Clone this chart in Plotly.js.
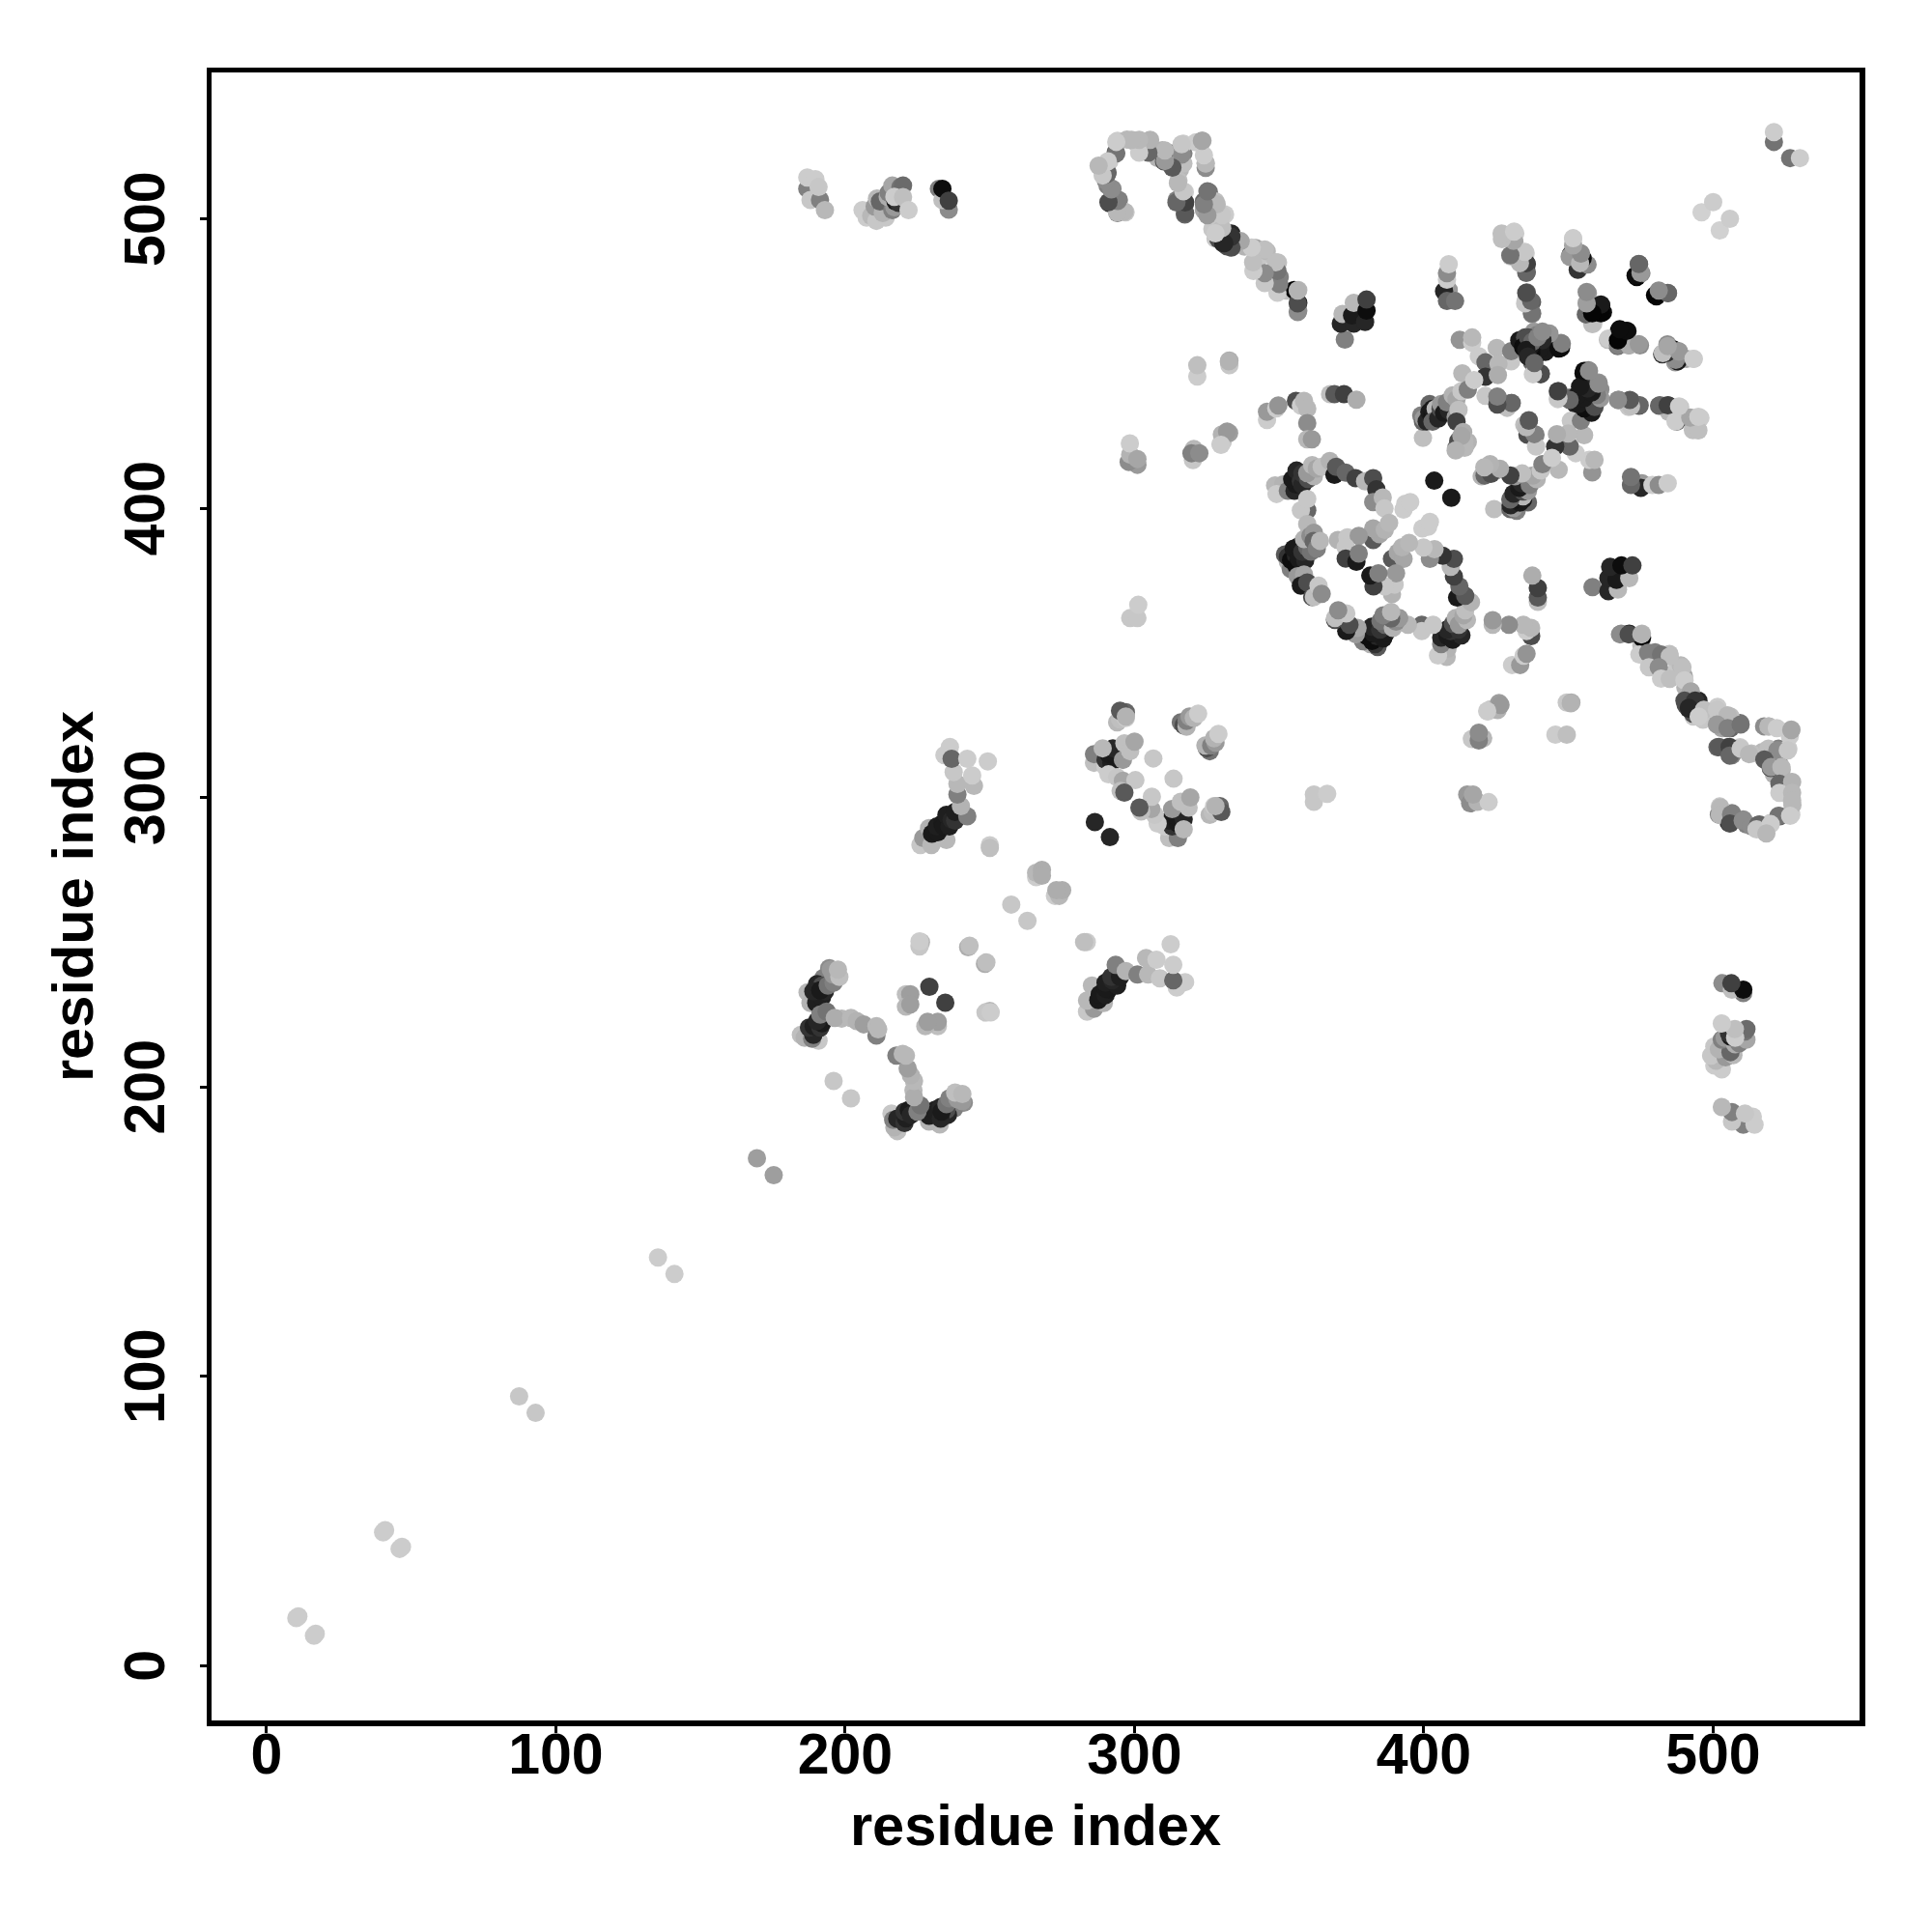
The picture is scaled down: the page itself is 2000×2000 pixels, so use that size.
<!DOCTYPE html>
<html><head><meta charset="utf-8">
<script src="https://cdn.plot.ly/plotly-3.0.1.min.js"></script>
<style>html,body{margin:0;padding:0;background:#fff}</style></head>
<body><div id="chart" style="width:2000px;height:2000px"></div>
<script>
// Each row is one residue contact: [residue i, residue j, grey level]
const shortRange = [[10.3,16.4,.8],[11,17,.8],[40.3,46,.8],[41,46.8,.8],[87.3,93,.78],[135.3,141,.8],[169.5,175.3,.62],[196,202,.78],[257.4,263,.78],
 [242.5,248.3,.68],[243,248.8,.75],[225.8,249,.75],[226.2,250,.72],[225.7,248.5,.78],[225.7,250.3,.8],[229.1,234.6,.25],
 [221,232,.75],[222.5,232,.62],[221,227.7,.72],[222.5,228.5,.62],[250,283.5,.8],[250,282.6,.75],[266,272.5,.8],[266,274,.72],[268,275,.68],[268,273,.68]];
const sheetA = [[187,232.7,.72],[188,229,.7],[190,229,.12],[192,231,.12],[193,233,.15],[194.5,241,.55],[192.5,237.7,.5],[190.3,235.5,.15],[192,235,.3],[189,233,.15],[191.4,233.3,.1],[194,235,.45],[196,236,.5],[195.8,238.8,.6],[195,240.5,.6],[198,238,.75],[197.5,240.5,.72],
 [184.7,218,.75],[186,217,.7],[190.8,216,.78],[188.6,216.6,.5],[189,218,.15],[187.5,220.5,.2],[189.1,221,.12],[191.4,220.5,.2],[192,222,.1],[190.3,222.7,.15],[191.4,225,.5],[193.6,226,.45],
 [198.8,223.6,.72],[196.4,223.8,.68],[202,223.8,.72],[204,222.7,.7],[206.4,221.6,.62],[210.8,217.7,.5],[210.8,221,.72],[211.4,219.9,.72]];
const sheetB = [[235,285.3,.72],[228.5,286,.5],[226,283.6,.78],[227,286,.6],[231,286,.72],[229.8,283.6,.72],[229,289.4,.7],[230,287.5,.1],[232,288,.1],[231.7,290,.12],[233.6,291,.1],[234,290,.1],[236,290,.12],[235,294,.12],[236.8,292.3,.15],[238,292,.2],[238,295,.12],
 [242.2,293.5,.5],[240,297,.7],[238.8,301,.5],[238.8,304.7,.72],[244.5,304,.72],[237.5,308.8,.78],[243.9,307.6,.8],[234.3,314.6,.8],[236.2,317.5,.8],[236.8,313.4,.4],[242.2,313.4,.8],[249.3,312.5,.8]];
const ringC = [[286,312,.75],[286,315,.5],[290,310.5,.8],[290,313,.2],[292,312,.12],[291,315,.1],[294,313.5,.1],[293,315,.1],[295,316,.2],[292.5,317,.15],[289,317,.72],[296,313,.6],[296.5,318.7,.75],[298.5,316,.75],[300,319.3,.65],
 [294,326,.72],[295,327,.75],[297,327.5,.8],[297,329.5,.4],[316,326,.45],[317,325,.3],[318,324.5,.7],[318,326.5,.5],[319,328,.6],[320.5,327.5,.7],[322,329,.8],[306.5,313.5,.78],
 [291,308,.8],[294,307,.78],[296,305.8,.65],[300.3,306,.78],[295.2,302.3,.75],[296.5,301.7,.35],[286.3,291.5,.15],[295,330,.35],[297,328,.7]];
const farTop = [[186.9,510.4,.5],[188,506.5,.78],[191.3,506.5,.5],[186.9,514.3,.8],[189.7,513.7,.8],[190.8,511,.78],[193,503,.72],
 [206,503,.8],[207.4,500.4,.8],[209,501,.72],[210.8,499.3,.78],[214,500.4,.78],[210.2,504.3,.6],[213.6,504.3,.5],[213,502,.7],[211,507,.72],[212,506,.4],[216.3,503,.5],[217,504,.6],[214.7,507.6,.68],[215,509,.5],[217.4,506,.1],[218.5,505.5,.2],[218,510,.3],[216.3,511.5,.65],[219.1,511,.45],[220,511.5,.42],[217,507.6,.8],[220,507.5,.75],[221.9,503,.8],
 [232.4,510.4,.5],[235.8,503.2,.55],[233.6,506.5,.75],[233.6,510.4,.05],[235.8,506.3,.25]];
const hairpin = [[288,518,.75],[291.3,519.9,.8],[289,516.5,.78],[290.7,516,.4],[290.7,511.5,.5],[292.4,510.4,.55],[291.3,505.4,.15],[294.6,506.5,.5],[294.1,502,.5],[296.9,502.3,.78],
 [293.5,523,.4],[294.1,527,.8],[297.4,527.4,.72],[299.6,527,.72],[301.9,527,.68],[302.4,523.7,.78],[305.2,527,.68],[305.2,523.7,.35],[308,523.2,.3],[308,521,.7],[309.6,523.7,.7],[310.2,519.9,.3],[312.4,522.6,.5],
 [314.6,519.9,.1],[315.7,517,.72],[315.7,519.9,.78],[316.9,522.6,.5],[316.9,526,.8],[321.3,526.5,.8],[323.5,527,.68],[324.6,517.6,.55],[324.6,519.3,.72],
 [314.6,506.5,.5],[317.4,501.5,.4],[317.4,505.2,.2],[315.2,513.2,.75],[317.4,509.3,.8]];
const strandD = [[325.7,509.3,.45],[324,506,.4],[324,503,.65],[328,506,.75],[329,502.6,.78],[331.3,501.5,.8],[326.9,496.5,.78],[328,493.2,.78],[330.7,496,.5],[329,493,.3],[333.5,494.9,.15],[330.7,491.5,.15],[332,490.5,.3],
 [335.7,491.5,.65],[338,490.4,.7],[341.9,482.6,.8],[341.9,489.9,.65],[343,486.5,.78],[344.6,481,.5],[346.9,478.2,.65],[345.7,488.8,.72],[350.2,479.9,.5],[349.6,474.9,.7],[349.6,484.9,.75],[352.5,475.2,.75],
 [356.6,468.2,.55],[356.6,471,.12],[355.2,475.4,.02],[356.6,475.4,.72]];
const contactsE = [[321.7,445.5,.8],[321.7,449.4,.75],[332.8,449.4,.78],[332.8,451,.68],
 [372.7,458.3,.5],[371.3,463.8,.15],[371.9,467.1,.72],[375.8,463.8,.15],[375.2,466.6,.1],[379.7,464.4,.15],[375.8,471,.72],[380.2,468.3,.05],[380.2,472.1,.25],
 [345.8,430.5,.8],[345.8,433.3,.6],[349,434.5,.8],[349.7,435.5,.58],[355.8,437.1,.3],[357.5,435.5,.8],[358.6,437.1,.72],[359.7,434.4,.72],[359.7,429.4,.55],[359.7,423.8,.72],[361.3,423.8,.6],
 [367.6,439.4,.75],[369.1,439.4,.35],[372.4,439.4,.25],[376.7,437.5,.68],
 [329.7,422.1,.8],[330.5,423,.78],[330.2,425.5,.7],[332.7,426,.62],[320.2,416.6,.78],[320.5,420.5,.72],[319.7,419,.5],[322.4,419,.55],
 [301,415,.6],[298,416,.55],[298.5,418.5,.7],[298.4,422.4,.8],[301,417,.65],[298.5,362,.78],[301,362,.78],[301.3,366.6,.8],
 [332,426.5,.6],[329.9,421.9,.8],[332.6,450.8,.7]];
const ringF = [[348.6,407.9,.72],[351.4,408.2,.7],[349.1,404.9,.8],[353,406,.5],[355.3,406,.15],[355.8,408.2,.1],[354.5,410,.1],[356.4,411,.1],[356,413,.15],[357.5,409.3,.2],[358,408,.15],[358,412,.2],[360,410,.3],[361,412,.5],[362,411,.7],[359.7,399.3,.4],[357.5,399.3,.78],[359.7,403.2,.78],[359.7,394.5,.72],
 [359.7,412.1,.6],[361.4,414.9,.72],[363,413.7,.65],[364.7,414.3,.75],[367.5,416.3,.7],[369.1,411.5,.1],[369.7,414.3,.35],[373,412.3,.4],[376.4,410.4,.25],[379.7,409.3,.72],[382.5,410.4,.3],[383.6,406.5,.2],[382.5,402.1,.55],[385.8,403.7,.72],[386.4,399.9,.78],
 [382.5,389.9,.8],[382.5,389,.35],[384.7,391,.65],[382.5,393,.65],[386.5,392.5,.7],[388,394.9,.72],
 [370.3,389,.7],[373.6,389.9,.78],[377.5,390.4,.6],[373,386.5,.78],[373,382.6,.25],[376.7,381.5,.1],[377.5,384.3,.5],
 [353,381.5,.7],[352,384,.35],[354,379,.5],[353,383.2,.2],[354.1,382.1,.05],[355.8,383.7,.15],[355,386,.1],[357,387,.1],[356,380,.05],[356.8,382.5,.1],[359,382,.15],[358,384.9,.2],[359.7,386.5,.4],[361,385,.45],[358.6,389.3,.7],[360.8,390.4,.55],[362,391.5,.6],[361.9,388.7,.4],[363,386,.5],[364.1,388.7,.72],
 [356.4,376.5,.6],[358.6,377.1,.65],[357.5,373.2,.1],[359.7,374.3,.3],[361.4,369.3,.3],[362,369.3,.75],[363.6,373.2,.78],[364.7,370.4,.55],
 [393,399.5,.8],[393.6,401.5,.8],[395.3,402.1,.8],[403.6,409.5,.1]];
const contactsG = [[408.6,475.4,.6],[407,475,.15],[408,471.6,.4],[410.8,471.6,.45],[408,479,.8],[408,481.2,.55],[408.6,484.3,.8],
 [426.9,494.9,.75],[431,488.2,.3],[430,487,.8],[431.3,492.1,.65],[431.6,494.9,.8],[435.6,481.6,.4],[435.6,484.3,.25],[435.2,488.2,.8],
 [450.8,487.7,.1],[451.3,487.1,.55],[453.6,483.8,.2],[453.6,482.6,.75],[454.1,488.2,.6],[451.6,493.2,.8],[456,484.3,.65],
 [473.6,479.9,.02],[474.4,484.3,.4],[475.2,481.2,.55],[480.4,473.2,.05],[481.3,474.9,.6],[484.4,474.3,.4],
 [435.6,474.6,.4],[435.2,471.6,.75],[437.4,471.2,.35],[437.4,467.1,.55],
 [458.6,463.8,.8],[456.3,467.1,.5],[456.3,471,.68],[456.7,474.3,.6],[458,467.1,.02],[461.3,470.1,.05],[461.9,467.7,.05],
 [463.6,458.2,.75],[467,456,.4],[467.4,461.2,.02],[470.4,461.2,.1],[467.4,458.2,.02],[470.8,456.3,.62],[474.7,456.3,.55],
 [482.4,453.2,.2],[484.2,456.6,.55],[486.3,454.9,.05],[486.9,450.4,.6],[484.7,454,.72],[488,454.3,.55],[490.8,451.6,.65],[493.3,451.6,.8],
 [412.4,458.2,.58],[416.7,457.2,.8],[416.7,459,.72],[419,452.5,.8],[425.2,455.4,.72],[430.2,450.8,.78],[430.2,454.3,.5],[421.3,450.4,.4],[425.8,449.9,.72],[421.3,445.4,.2],[425.6,446,.68],[413.3,446.6,.72],
 [433,458,.1],[434.5,455.4,.05],[436,453.5,.1],[436.9,458.2,.1],[435,459,.3],[438,461,.6],[439.1,459.9,.5],[438,455.4,.1],[439,453,.1],[440,458,.1],[441.3,456.6,.15],[442,454,.1],[443,460.4,.55],[447.4,455.4,.05],[447.4,457.1,.55],[437.4,450.4,.4],[438,446.5,.78],[440.4,446.3,.25],
 [455.2,446.6,.05],[456.9,447.7,.5],[460.4,443.4,.58],[455,440,.1],[457.5,438.8,.05],[458,441,.15],[453.6,437.1,.05],[455.8,434.3,.05],[456.3,437.1,.1],[459,436,.3],[457.5,437.5,.4],[454.7,435.4,.1],[459.1,439.3,.5],[461,441,.55],
 [446.6,440.4,.3],[446.3,437.7,.8],[452.4,436,.15],[450.2,438.2,.4],
 [467.4,437.4,.45],[470.8,435,.78],[471.6,437.1,.4],[474.4,435.4,.3],[481.3,435.4,.4],[484.7,435.4,.25],[484.7,433.2,.72],[488.6,434.9,.78],[487.4,429.9,.45],[492.4,431,.65],[493,427,.75],[494.7,427.1,.75],[495.6,431.2,.8],
 [496,502.3,.82],[500,505.8,.8],[521,526.6,.45],[521,530,.8]];
const ringH = [[399.7,424.3,.75],[399.1,432.1,.5],[399.7,429.9,.4],[400,431,.6],[401,430,.15],[402,436,.4],[401.9,433.2,.1],[403,432,.08],[403,434.3,.1],[404.1,434.3,.72],[403,429.9,.4],[405,431,.15],[405.8,434.3,.3],[406,436,.6],[407,433,.1],[408.6,433.8,.15],[409,435,.15],[408,436.6,.5],[410,439,.7],[411.3,437.7,.65],[411,431.5,.6],[412,434,.75],
 [413,440.4,.78],[415.2,441,.5],[417.4,444.3,.8],[421.3,438.8,.78],[425.6,438.2,.5],[428,435.4,.72],[430.2,436.3,.35],
 [411.3,429.9,.25],[411.3,421,.4],[411.9,423.2,.3],[413.6,426.3,.68],[415.2,422.9,.7],[414.1,420.9,.72],
 [434.7,428.8,.75],[436.3,430.4,.4],[435.8,425.4,.3],[438.6,425.4,.5],[423,414,.72],[425,413,.65],[420,411,.7]];
const strandJ = [[356.4,467.8,.55],[356.4,470.8,.3],[356.4,475.2,.7],[349.4,474.5,.8],[350,477.5,.5],[349.4,482,.45],[348.8,485,.75],[345,477.8,.78],[345,481.2,.55],[345,489.4,.75],[341.1,482,.8],[341,485,.75],[340.5,490.1,.8],[336.7,492.3,.65],
 [333.5,490.1,.3],[333.5,493.8,.2],[331,491.6,.15],[330.3,496.8,.75],[330.3,501.3,.78],[328,495,.8],[328.4,505,.72],[325.2,501.3,.6],[324,505,.5],[325.2,509.5,.45],
 [324.6,519.1,.72],[324,522,.8],[323.3,527,.65],[317.5,502,.35],[317.5,505.7,.25],[314.5,505.7,.4],[316.9,509.5,.78],[315,512.4,.72],[316.9,519.1,.75],[316.3,522.2,.55],[316.3,525.8,.78],
 [313.1,517.7,.35],[310.5,520,.6],[310.5,523.6,.72],[304.8,522.9,.4],[305.4,527.3,.7],[301.6,522.9,.8],[301.6,527.3,.72],[299,527.3,.72],[293.7,522.6,.45],[293.7,526.6,.8],
 [296.5,502.5,.72],[294,502.3,.72],[294.2,506.2,.5],[291,505.8,.3],[292,510.2,.55],[290.1,513.2,.55],[290.5,515.5,.4],[289,515,.78],[290.8,519.9,.8],[287.6,518.4,.72]];

const allContacts = [...shortRange, ...sheetA, ...sheetB, ...ringC, ...farTop, ...hairpin, ...strandD, ...contactsE, ...ringF, ...contactsG, ...ringH, ...strandJ];
const residueI = allContacts.map(r => r[0]);
const residueJ = allContacts.map(r => r[1]);
const greyLevel = allContacts.map(r => r[2]);
const tickValues = [0, 100, 200, 300, 400, 500];
const axisLabel = 'residue index';

const toColour = g => { const v = Math.round(g * 255); return `rgb(${v},${v},${v})`; };
const fontFamily = '"Liberation Sans", Arial, sans-serif';
const axisBase = {
  tickmode: 'array', tickvals: tickValues, ticktext: tickValues.map(String),
  showgrid: false, zeroline: false, showline: true, mirror: true, linecolor: '#000', linewidth: 5.5,
  ticks: 'outside', ticklen: 7, tickwidth: 3, tickcolor: '#000'
};
Plotly.newPlot('chart', [{
  type: 'scatter', mode: 'markers',
  x: residueI.concat(residueJ), y: residueJ.concat(residueI),
  marker: { size: 19, color: greyLevel.concat(greyLevel).map(toColour), line: { width: 0 } },
  hoverinfo: 'skip'
}], {
  width: 2000, height: 2000, showlegend: false,
  paper_bgcolor: '#fff', plot_bgcolor: '#fff',
  margin: { l: 219, r: 74.5, t: 74.5, b: 219, pad: 0 },
  xaxis: Object.assign({}, axisBase, { range: [-19.0, 550.6], tickangle: 0, ticklabelstandoff: -28,
    tickfont: { family: fontFamily, size: 59, color: '#000', weight: 700 },
    title: { text: axisLabel, font: { family: fontFamily, size: 59.6, color: '#000', weight: 700 }, standoff: 22 } }),
  yaxis: Object.assign({}, axisBase, { range: [-19.0, 550.6], tickangle: -90, ticklabelstandoff: 13, ticklabelshift: 9,
    tickfont: { family: fontFamily, size: 59, color: '#000', weight: 700 },
    title: { text: axisLabel, font: { family: fontFamily, size: 59.6, color: '#000', weight: 700 }, standoff: 3 } })
}, { staticPlot: true });
</script></body></html>
